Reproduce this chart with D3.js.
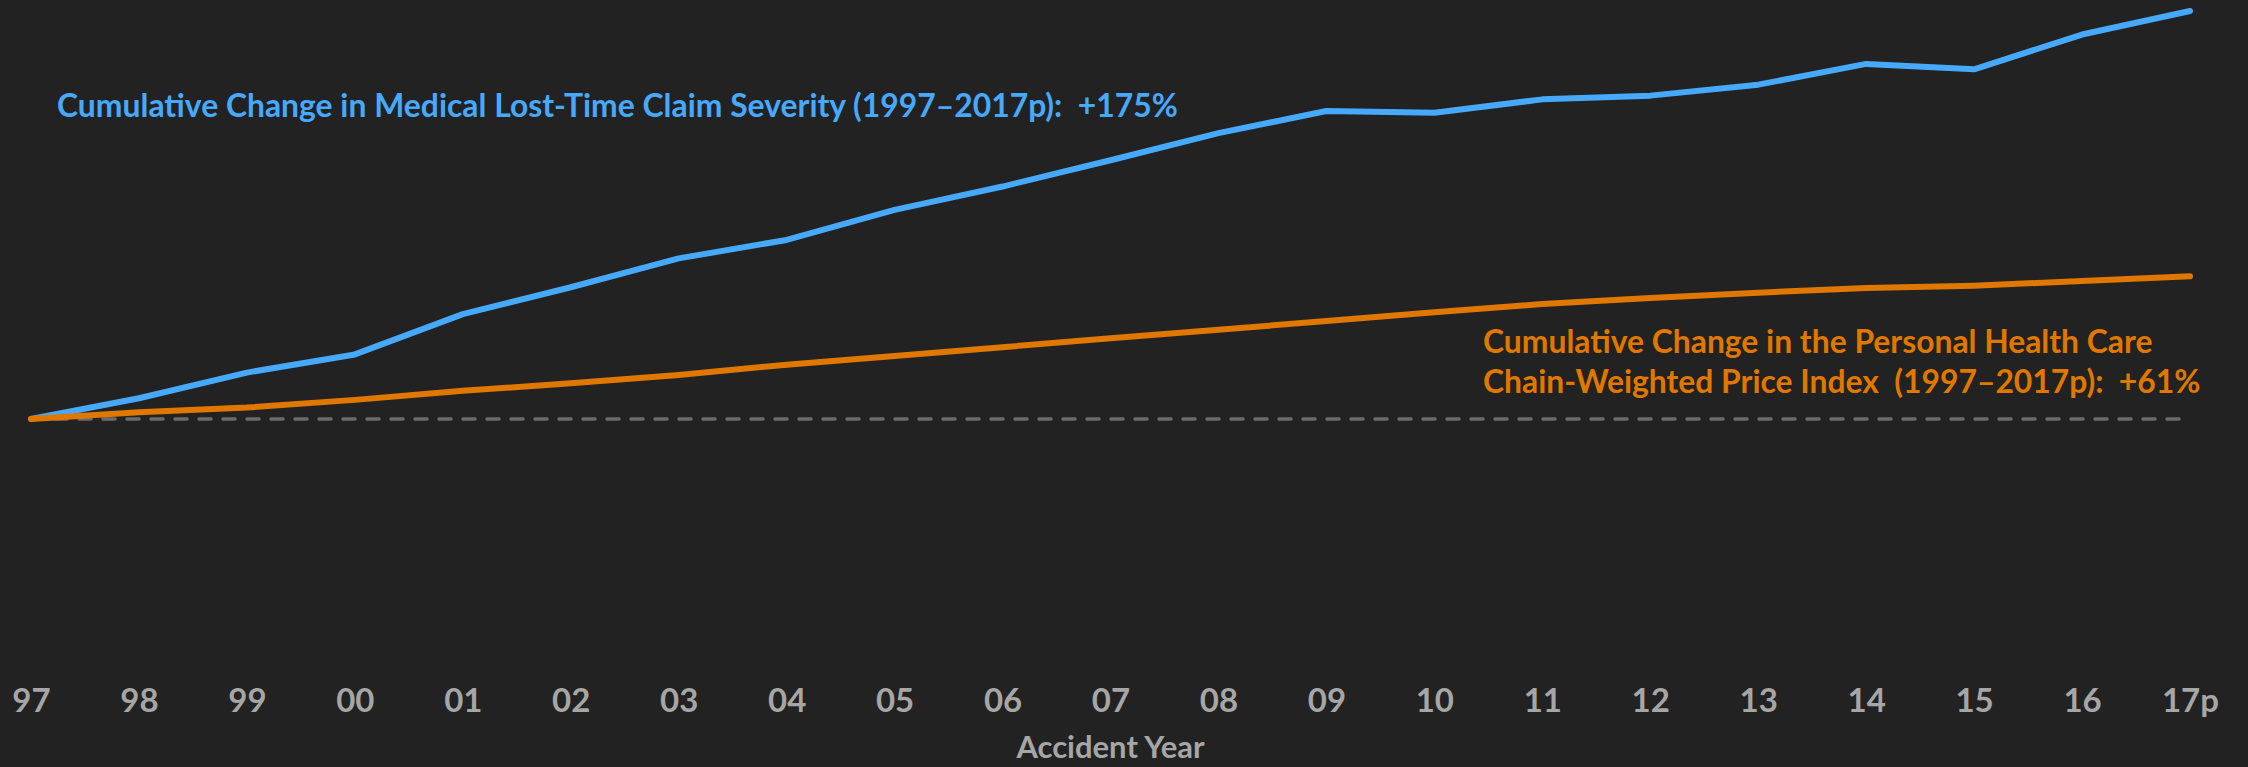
<!DOCTYPE html>
<html>
<head>
<meta charset="utf-8">
<script src="https://cdn.jsdelivr.net/npm/d3@7"></script>
<style>
  html, body { margin: 0; padding: 0; background: #222222; }
  svg { display: block; }
  text { white-space: pre; }
</style>
</head>
<body>
<script>
const years = ["97","98","99","00","01","02","03","04","05","06","07","08","09","10","11","12","13","14","15","16","17p"];
const medicalSeverity = [0, 8.9, 19.9, 27.7, 45, 56.5, 68.9, 76.8, 89.7, 99.7, 111, 122.6, 132.1, 131.4, 137.1, 138.7, 143.4, 152.3, 150, 164.9, 175];
const priceIndex = [0, 2.9, 4.9, 8.2, 12.1, 15.3, 18.9, 23.3, 27, 30.8, 34.6, 38.3, 42, 45.8, 49.3, 51.9, 54.2, 56.2, 57.2, 59.2, 61.2];
const medicalLabel = "Cumulative Change in Medical Lost-Time Claim Severity (1997\u20132017p):  +175%";
const priceLabel = ["Cumulative Change in the Personal Health Care", "Chain-Weighted Price Index  (1997\u20132017p):  +61%"];
const xTitle = "Accident Year";

const W = 2248, H = 767;
const BLUE = "#47a9fc", ORANGE = "#e07800", GRAY = "#a6a6a6";
const FONT = "Lato, 'Open Sans', sans-serif";

const svg = d3.select("body").append("svg").attr("width", W).attr("height", H);
svg.append("rect").attr("width", W).attr("height", H).attr("fill", "#222222");

const x = d3.scalePoint().domain(years).range([31, 2190]);
const y = d3.scaleLinear().domain([0, 175]).range([419, 11]);

// zero baseline (dashed)
svg.append("line")
  .attr("x1", x(years[0])).attr("x2", x(years[years.length - 1]) - 6)
  .attr("y1", y(0)).attr("y2", y(0))
  .attr("stroke", "#6b6b6b").attr("stroke-width", 3.5)
  .attr("stroke-dasharray", "12 12").attr("stroke-linecap", "round");

const line = d3.line().x((d, i) => x(years[i])).y(d => y(d));

svg.append("path").datum(medicalSeverity)
  .attr("d", line).attr("fill", "none").attr("stroke", BLUE)
  .attr("stroke-width", 6).attr("stroke-linecap", "round").attr("stroke-linejoin", "round");

svg.append("path").datum(priceIndex)
  .attr("d", line).attr("fill", "none").attr("stroke", ORANGE)
  .attr("stroke-width", 6).attr("stroke-linecap", "round").attr("stroke-linejoin", "round");

// x axis
const axis = svg.append("g")
  .call(d3.axisBottom(x).tickSize(0));
axis.select(".domain").remove();
axis.selectAll("text")
  .attr("y", 712).attr("dy", 0)
  .attr("fill", GRAY)
  .attr("font-family", FONT).attr("font-weight", "bold").attr("font-size", 33);

svg.append("text")
  .attr("x", (x(years[0]) + x(years[years.length - 1])) / 2).attr("y", 758)
  .attr("text-anchor", "middle")
  .attr("fill", GRAY).attr("font-family", FONT).attr("font-weight", "bold").attr("font-size", 31)
  .text(xTitle);

function fitSize(sel, width) {
  const len = sel.node().getComputedTextLength();
  const fs = parseFloat(sel.attr("font-size"));
  return len > 0 ? fs * width / len : fs;
}

const t1 = svg.append("text")
  .attr("x", 57).attr("y", 117)
  .attr("fill", BLUE).attr("font-family", FONT).attr("font-weight", "bold").attr("font-size", 29)
  .text(medicalLabel);
t1.attr("font-size", fitSize(t1, 1121));

const t2 = svg.append("text")
  .attr("x", 1483).attr("y", 353)
  .attr("fill", ORANGE).attr("font-family", FONT).attr("font-weight", "bold").attr("font-size", 29)
  .text(priceLabel[0]);
const t3 = svg.append("text")
  .attr("x", 1483).attr("y", 393)
  .attr("fill", ORANGE).attr("font-family", FONT).attr("font-weight", "bold").attr("font-size", 29)
  .text(priceLabel[1]);
const fsO = (fitSize(t2, 674) + fitSize(t3, 713)) / 2;
t2.attr("font-size", fsO);
t3.attr("font-size", fsO);
</script>
</body>
</html>
